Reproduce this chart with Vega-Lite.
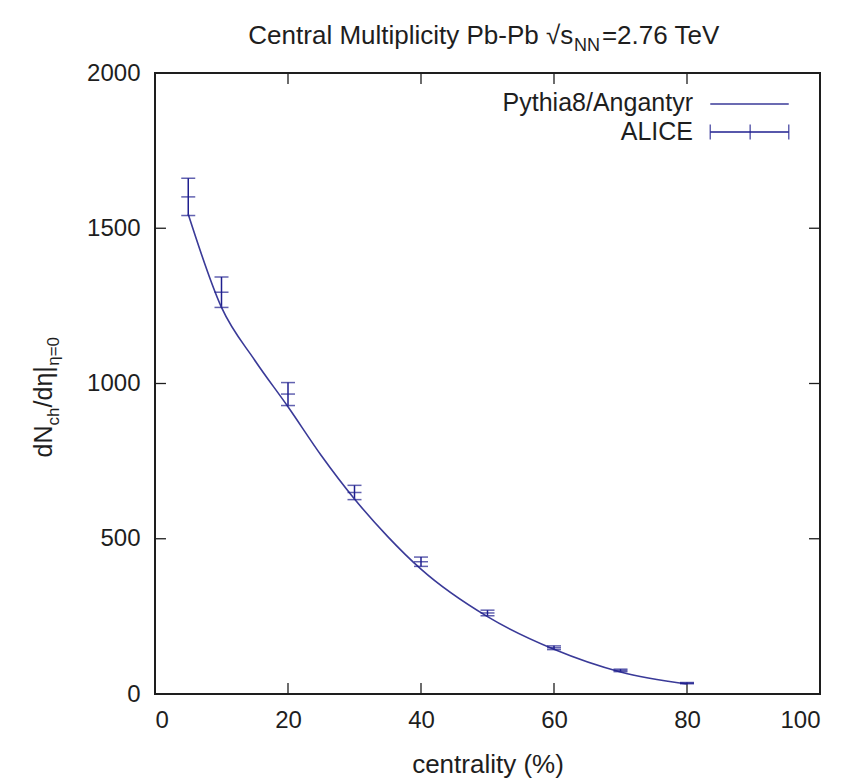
{
  "$schema": "https://vega.github.io/schema/vega-lite/v6.json",
  "width": 665,
  "height": 621,
  "autosize": {"type": "none"},
  "padding": {"left": 155, "top": 73, "right": 39, "bottom": 87},
  "background": "white",
  "config": {
    "view": {"stroke": "#1e1e1e", "strokeWidth": 2},
    "axis": {
      "grid": false,
      "domain": false,
      "ticks": false,
      "labelFont": "Liberation Sans",
      "labelFontSize": 24,
      "labelColor": "#1e1e1e",
      "titleFont": "Liberation Sans",
      "titleFontSize": 26,
      "titleColor": "#1e1e1e",
      "titleFontWeight": "normal"
    },
    "text": {"font": "Liberation Sans", "color": "#1e1e1e"}
  },
  "data": {"values": [{}]},
  "datasets": {
    "alice": [
      {"c": 5, "y": 1601, "lo": 1541, "hi": 1661},
      {"c": 10, "y": 1294, "lo": 1245, "hi": 1343},
      {"c": 20, "y": 966, "lo": 929, "hi": 1003},
      {"c": 30, "y": 649, "lo": 626, "hi": 672},
      {"c": 40, "y": 426, "lo": 411, "hi": 441},
      {"c": 50, "y": 261, "lo": 252, "hi": 270},
      {"c": 60, "y": 149, "lo": 143, "hi": 155},
      {"c": 70, "y": 76, "lo": 72, "hi": 80},
      {"c": 80, "y": 35, "lo": 33, "hi": 37}
    ],
    "pythia": [
      {"c": 5, "n": 1545},
      {"c": 10, "n": 1245},
      {"c": 15, "n": 1075},
      {"c": 20, "n": 925},
      {"c": 25, "n": 768},
      {"c": 30, "n": 628},
      {"c": 35, "n": 507},
      {"c": 40, "n": 402},
      {"c": 50, "n": 249},
      {"c": 60, "n": 144},
      {"c": 70, "n": 71},
      {"c": 80, "n": 32}
    ],
    "xticks": [{"v": 20}, {"v": 40}, {"v": 60}, {"v": 80}],
    "yticks": [{"v": 500}, {"v": 1000}, {"v": 1500}]
  },
  "layer": [
    {
      "data": {"name": "alice"},
      "mark": {"type": "rule", "color": "#1f1f8f", "strokeWidth": 1.5},
      "encoding": {
        "x": {"field": "c", "type": "quantitative", "scale": {"domain": [0, 100], "nice": false, "zero": false},
          "axis": {"orient": "bottom", "title": "centrality (%)", "values": [0, 20, 40, 60, 80, 100], "labelPadding": 14, "titlePadding": 19}},
        "y": {"field": "lo", "type": "quantitative", "scale": {"domain": [0, 2000], "nice": false},
          "axis": {"orient": "left", "title": null, "format": "d", "values": [0, 500, 1000, 1500, 2000], "labelPadding": 15}},
        "y2": {"field": "hi"}
      }
    },
    {
      "data": {"name": "xticks"},
      "mark": {"type": "rule", "color": "#1e1e1e", "strokeWidth": 1.3},
      "encoding": {
        "x": {"field": "v", "type": "quantitative", "axis": null},
        "y": {"datum": 0, "type": "quantitative", "axis": null},
        "y2": {"datum": 35.4}
      }
    },
    {
      "data": {"name": "xticks"},
      "mark": {"type": "rule", "color": "#1e1e1e", "strokeWidth": 1.3},
      "encoding": {
        "x": {"field": "v", "type": "quantitative", "axis": null},
        "y": {"datum": 2000, "type": "quantitative", "axis": null},
        "y2": {"datum": 1964.6}
      }
    },
    {
      "data": {"name": "yticks"},
      "mark": {"type": "rule", "color": "#1e1e1e", "strokeWidth": 1.3},
      "encoding": {
        "y": {"field": "v", "type": "quantitative", "axis": null},
        "x": {"datum": 0, "type": "quantitative", "axis": null},
        "x2": {"datum": 1.65}
      }
    },
    {
      "data": {"name": "yticks"},
      "mark": {"type": "rule", "color": "#1e1e1e", "strokeWidth": 1.3},
      "encoding": {
        "y": {"field": "v", "type": "quantitative", "axis": null},
        "x": {"datum": 100, "type": "quantitative", "axis": null},
        "x2": {"datum": 98.35}
      }
    },
    {
      "data": {"name": "pythia"},
      "mark": {"type": "line", "interpolate": "monotone", "color": "#3a3a98", "strokeWidth": 1.6},
      "encoding": {
        "x": {"field": "c", "type": "quantitative", "axis": null},
        "y": {"field": "n", "type": "quantitative", "axis": null}
      }
    },
    {
      "data": {"name": "alice"},
      "mark": {"type": "tick", "orient": "horizontal", "color": "#1f1f8f", "size": 14, "thickness": 1.5},
      "encoding": {
        "x": {"field": "c", "type": "quantitative", "axis": null},
        "y": {"field": "hi", "type": "quantitative", "axis": null}
      }
    },
    {
      "data": {"name": "alice"},
      "mark": {"type": "tick", "orient": "horizontal", "color": "#1f1f8f", "size": 14, "thickness": 1.5},
      "encoding": {
        "x": {"field": "c", "type": "quantitative", "axis": null},
        "y": {"field": "lo", "type": "quantitative", "axis": null}
      }
    },
    {
      "data": {"name": "alice"},
      "mark": {"type": "tick", "orient": "horizontal", "color": "#1f1f8f", "size": 14, "thickness": 1.5},
      "encoding": {
        "x": {"field": "c", "type": "quantitative", "axis": null},
        "y": {"field": "y", "type": "quantitative", "axis": null}
      }
    },
    {
      "mark": {"type": "rule", "color": "#3a3a98", "strokeWidth": 1.6},
      "encoding": {
        "x": {"datum": 83.5, "type": "quantitative", "axis": null},
        "x2": {"datum": 95.3},
        "y": {"datum": 1900, "type": "quantitative", "axis": null}
      }
    },
    {
      "mark": {"type": "rule", "color": "#1f1f8f", "strokeWidth": 1.5},
      "encoding": {
        "x": {"datum": 83.5, "type": "quantitative", "axis": null},
        "x2": {"datum": 95.3},
        "y": {"datum": 1810, "type": "quantitative", "axis": null}
      }
    },
    {
      "mark": {"type": "tick", "orient": "vertical", "color": "#1f1f8f", "size": 15, "thickness": 1.5},
      "encoding": {
        "x": {"datum": 83.5, "type": "quantitative", "axis": null},
        "y": {"datum": 1810, "type": "quantitative", "axis": null}
      }
    },
    {
      "mark": {"type": "tick", "orient": "vertical", "color": "#1f1f8f", "size": 15, "thickness": 1.5},
      "encoding": {
        "x": {"datum": 95.3, "type": "quantitative", "axis": null},
        "y": {"datum": 1810, "type": "quantitative", "axis": null}
      }
    },
    {
      "mark": {"type": "tick", "orient": "vertical", "color": "#1f1f8f", "size": 15, "thickness": 1.5},
      "encoding": {
        "x": {"datum": 89.5, "type": "quantitative", "axis": null},
        "y": {"datum": 1810, "type": "quantitative", "axis": null}
      }
    },
    {
      "mark": {"type": "text", "text": "Pythia8/Angantyr", "fontSize": 25, "align": "right", "baseline": "alphabetic"},
      "encoding": {
        "x": {"datum": 80.9, "type": "quantitative", "axis": null},
        "y": {"datum": 1877, "type": "quantitative", "axis": null}
      }
    },
    {
      "mark": {"type": "text", "text": "ALICE", "fontSize": 25, "align": "right", "baseline": "alphabetic"},
      "encoding": {
        "x": {"datum": 80.9, "type": "quantitative", "axis": null},
        "y": {"datum": 1783, "type": "quantitative", "axis": null}
      }
    },
    {
      "mark": {"type": "text", "text": "Central Multiplicity Pb-Pb √s", "fontSize": 26, "align": "right", "baseline": "alphabetic"},
      "encoding": {
        "x": {"datum": 62.9, "type": "quantitative", "axis": null},
        "y": {"datum": 2093, "type": "quantitative", "axis": null}
      }
    },
    {
      "mark": {"type": "text", "text": "NN", "fontSize": 18, "align": "left", "baseline": "alphabetic"},
      "encoding": {
        "x": {"datum": 63.0, "type": "quantitative", "axis": null},
        "y": {"datum": 2071, "type": "quantitative", "axis": null}
      }
    },
    {
      "mark": {"type": "text", "text": "=2.76 TeV", "fontSize": 26, "align": "left", "baseline": "alphabetic"},
      "encoding": {
        "x": {"datum": 67.2, "type": "quantitative", "axis": null},
        "y": {"datum": 2093, "type": "quantitative", "axis": null}
      }
    },
    {
      "mark": {"type": "text", "text": "dN", "fontSize": 25, "angle": 270, "align": "left", "baseline": "alphabetic"},
      "encoding": {
        "x": {"datum": -15.5, "type": "quantitative", "axis": null},
        "y": {"datum": 762, "type": "quantitative", "axis": null}
      }
    },
    {
      "mark": {"type": "text", "text": "ch", "fontSize": 17, "angle": 270, "align": "left", "baseline": "alphabetic"},
      "encoding": {
        "x": {"datum": -14.5, "type": "quantitative", "axis": null},
        "y": {"datum": 865, "type": "quantitative", "axis": null}
      }
    },
    {
      "mark": {"type": "text", "text": "/dη|", "fontSize": 25, "angle": 270, "align": "left", "baseline": "alphabetic"},
      "encoding": {
        "x": {"datum": -15.5, "type": "quantitative", "axis": null},
        "y": {"datum": 923, "type": "quantitative", "axis": null}
      }
    },
    {
      "mark": {"type": "text", "text": "η=0", "fontSize": 17, "angle": 270, "align": "left", "baseline": "alphabetic"},
      "encoding": {
        "x": {"datum": -14.5, "type": "quantitative", "axis": null},
        "y": {"datum": 1057, "type": "quantitative", "axis": null}
      }
    }
  ],
  "resolve": {"axis": {"x": "independent", "y": "independent"}}
}
